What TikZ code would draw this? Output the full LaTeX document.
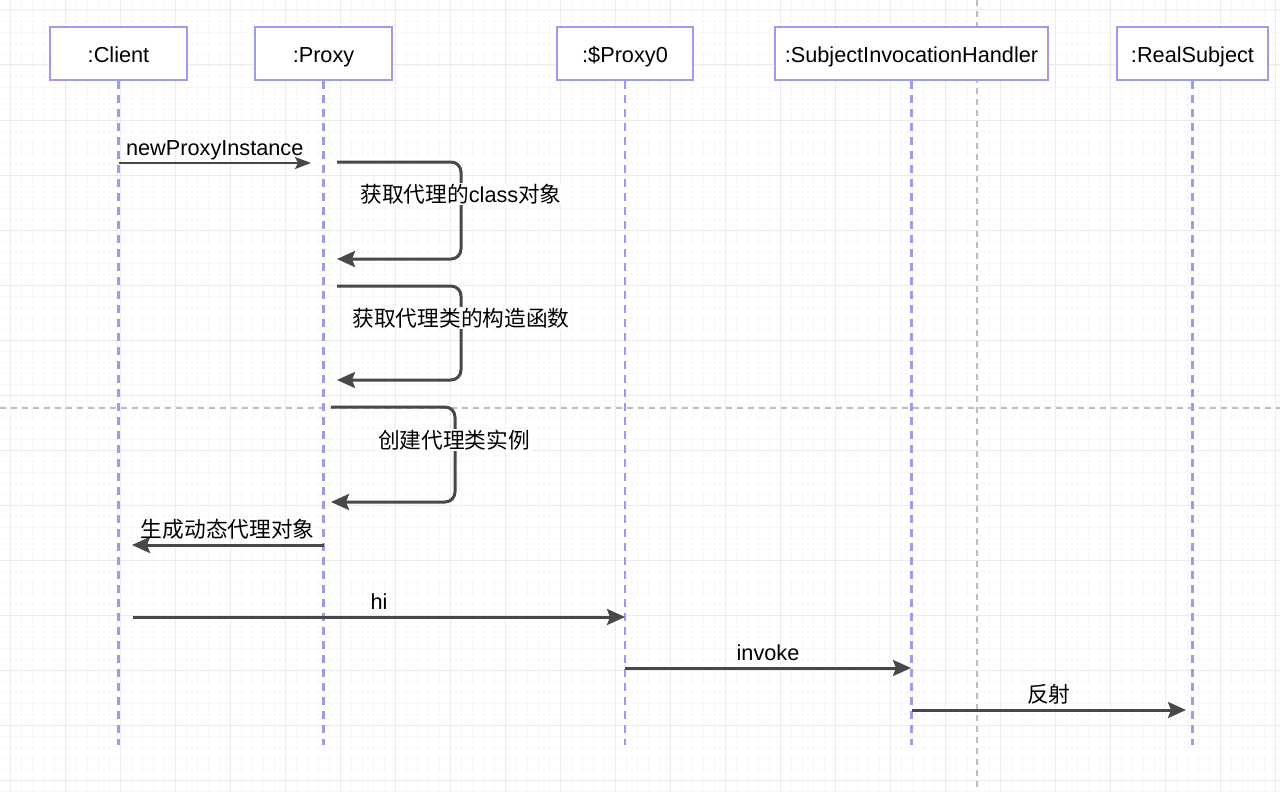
\documentclass[tikz,border=0pt]{standalone}
\usepackage{fontspec}
\setmainfont{Liberation Sans}
\newfontfamily\cjk{Noto Sans CJK SC}
\usetikzlibrary{arrows.meta}
\definecolor{boxc}{RGB}{155,155,240}
\definecolor{msgc}{RGB}{72,72,72}
\definecolor{gridminor}{RGB}{248,248,248}
\definecolor{gridmajor}{RGB}{236,236,236}
\definecolor{pagec}{RGB}{190,190,190}
\tikzset{
  hdr/.style={draw=boxc, line width=2.5pt, fill=white, minimum height=53pt, inner sep=0pt,
    text height=19pt, text depth=0pt,
    font=\fontsize{21.7pt}{26pt}\selectfont},
  life/.style={draw=boxc, line width=2.5pt, dash pattern=on 8pt off 6pt},
  msg/.style={draw=msgc, line width=3pt, -{Stealth[length=18pt,width=16pt,inset=3pt]}},
  thinmsg/.style={draw=msgc, line width=2.4pt, -{Stealth[length=16pt,width=12pt,inset=3pt]}},
  lbl/.style={font=\fontsize{21.7pt}{26pt}\selectfont, inner sep=0pt, text=black},
  loopl/.style={lbl, fill=white, inner sep=1pt},
  minorg/.style={draw=gridminor, line width=0.8pt},
  majorg/.style={draw=gridmajor, line width=1pt},
  pagebrk/.style={draw=pagec, line width=1.3pt, dash pattern=on 6pt off 5pt}
}
\begin{document}
\begin{tikzpicture}[x=1pt,y=-1pt]
\useasboundingbox (0,0) rectangle (1280,792);
\fill[white] (0,0) rectangle (1280,792);
% grid
\foreach \g in {-1,10,21,...,1285} {
  \draw[minorg] (\g,0) -- (\g,792);
  \draw[minorg] (0,\g) -- (1280,\g);
}
\foreach \g in {10,65,...,1285} {
  \draw[majorg] (\g,0) -- (\g,792);
  \draw[majorg] (0,\g) -- (1280,\g);
}
% page breaks
\draw[pagebrk] (977,0) -- (977,792);
\draw[pagebrk] (0,408) -- (1280,408);

% headers
\node[hdr, minimum width=137pt] (client) at (118.5,53.5) {:Client};
\node[hdr, minimum width=137pt] (proxy) at (323.5,53.5) {:Proxy};
\node[hdr, minimum width=136pt] (proxy0) at (625,53.5) {:\$Proxy0};
\node[hdr, minimum width=273pt] (sih) at (911.5,53.5) {:SubjectInvocationHandler};
\node[hdr, minimum width=151pt] (real) at (1192.5,53.5) {:RealSubject};

% lifeline ends
\coordinate (clientEnd) at (118.5,745);
\coordinate (proxyEnd) at (323.5,745);
\coordinate (proxy0End) at (625,745);
\coordinate (sihEnd) at (911.5,745);
\coordinate (realEnd) at (1192.5,745);
\draw[life] (client.south) -- (clientEnd);
\draw[life] (proxy.south) -- (proxyEnd);
\draw[life] (proxy0.south) -- (proxy0End);
\draw[life] (sih.south) -- (sihEnd);
\draw[life] (real.south) -- (realEnd);

% message endpoints
\coordinate (m1a) at (118.5,163);
\coordinate (m1b) at (311,163);
\coordinate (l1a) at (337,162);
\coordinate (l1c) at (461,162);
\coordinate (l1d) at (461,259);
\coordinate (l1b) at (337,259);
\coordinate (l2a) at (337,286);
\coordinate (l2c) at (461,286);
\coordinate (l2d) at (461,380);
\coordinate (l2b) at (337,380);
\coordinate (l3a) at (331,407);
\coordinate (l3c) at (455,407);
\coordinate (l3d) at (455,502);
\coordinate (l3b) at (331,502);
\coordinate (m5a) at (323.5,545);
\coordinate (m5b) at (132,545);
\coordinate (m6a) at (133,617);
\coordinate (m6b) at (625,617);
\coordinate (m7a) at (625,668);
\coordinate (m7b) at (911,668);
\coordinate (m8a) at (911.5,710);
\coordinate (m8b) at (1186,710);

% messages
\draw[thinmsg] (m1a) -- node[lbl, midway, anchor=base, yshift=8pt] (t1) {newProxyInstance} (m1b);
\draw[msg, rounded corners=10pt] (l1a) -- (l1c) -- (l1d) -- (l1b);
\node[loopl, anchor=base] (t2) at (461,202) {{\cjk 获取代理的}class{\cjk 对象}};
\draw[msg, rounded corners=10pt] (l2a) -- (l2c) -- (l2d) -- (l2b);
\node[loopl, anchor=base] (t3) at (461,326) {\cjk 获取代理类的构造函数};
\draw[msg, rounded corners=10pt] (l3a) -- (l3c) -- (l3d) -- (l3b);
\node[loopl, anchor=base] (t4) at (454,448) {\cjk 创建代理类实例};
\draw[msg] (m5a) -- node[lbl, midway, anchor=base, yshift=8pt] (t5) {\cjk 生成动态代理对象} (m5b);
\draw[msg] (m6a) -- node[lbl, midway, anchor=base, yshift=8pt] (t6) {hi} (m6b);
\draw[msg] (m7a) -- node[lbl, midway, anchor=base, yshift=8pt] (t7) {invoke} (m7b);
\draw[msg] (m8a) -- node[lbl, midway, anchor=base, yshift=8pt] (t8) {\cjk 反射} (m8b);
\end{tikzpicture}
\end{document}
